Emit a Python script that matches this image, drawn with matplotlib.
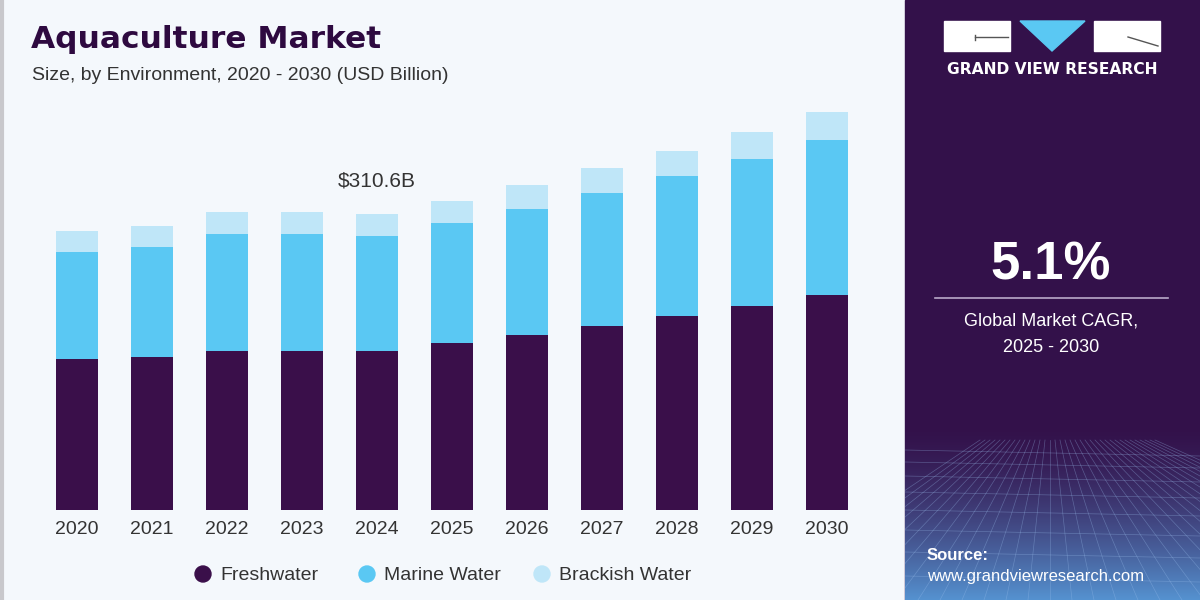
import numpy as np
import matplotlib as mpl
mpl.use("agg")
import matplotlib.pyplot as plt
from matplotlib.patches import Rectangle, Polygon, Circle

plt.rcParams['font.family'] = ['Liberation Sans', 'DejaVu Sans']

# data (USD billion)
years = ["2020", "2021", "2022", "2023", "2024", "2025", "2026", "2027", "2028", "2029", "2030"]
freshwater = [158.4, 160.8, 166.8, 166.9, 167.0, 174.7, 183.6, 193.3, 203.2, 214.3, 225.5]
marine = [112.6, 115.1, 122.4, 122.3, 120.4, 126.1, 132.2, 139.2, 147.5, 153.6, 162.3]
brackish = [21.7, 22.3, 23.4, 23.3, 23.2, 23.6, 25.2, 25.9, 26.2, 28.3, 30.0]
series_names = ["Freshwater", "Marine Water", "Brackish Water"]
note_year = "2024"
note_text = "$310.6B"
cagr = "5.1%"

c_fresh = "#3a0f4a"
c_marine = "#5ac8f3"
c_brack = "#bfe6f8"
c_panel = "#33114a"
bg = "#f4f8fc"

fig = plt.figure(figsize=(12, 6), dpi=100)
fig.patch.set_facecolor(bg)

# background / decoration layer in pixel coords
deco = fig.add_axes([0, 0, 1, 1])
deco.set_xlim(0, 1200)
deco.set_ylim(600, 0)
deco.axis("off")
panel = Rectangle((905, 0), 295, 600, color=c_panel, zorder=0)
deco.add_patch(panel)
deco.plot([1.5, 1.5], [0, 600], color="#c8c8cc", lw=3)

# bottom gradient of the panel with a faint grid
grad = np.linspace(0, 1, 200)[:, None]
top_c = np.array(mpl.colors.to_rgb(c_panel))
bot_c = np.array(mpl.colors.to_rgb("#5592d0"))
img = top_c[None, None, :] * (1 - grad[..., None] ** 1.5) + bot_c[None, None, :] * grad[..., None] ** 1.5
img = np.repeat(img, 2, axis=1)
deco.imshow(img, extent=(905, 1200, 600, 425), aspect="auto", zorder=1)
for k in range(-14, 22):
    ln, = deco.plot([1050 + k * 5, 1050 + k * 22], [440, 600], color="#9cc0ee", lw=0.5, alpha=0.35, zorder=2)
    ln.set_clip_path(panel)
for yy in [450, 462, 476, 492, 510, 530, 552, 576]:
    ln, = deco.plot([905, 1200], [yy, yy + 6], color="#9cc0ee", lw=0.5, alpha=0.35, zorder=2)
    ln.set_clip_path(panel)
deco.set_xlim(0, 1200)
deco.set_ylim(600, 0)

# logo
deco.add_patch(Rectangle((944, 21), 66, 30, color="white", zorder=3))
deco.plot([975, 1008], [37, 37], color="#555555", lw=1, zorder=4)
deco.plot([975, 975], [35, 40], color="#555555", lw=1, zorder=4)
deco.add_patch(Polygon([(1020, 21), (1085, 21), (1052, 51)], color="#5ac8f3", zorder=3))
deco.add_patch(Rectangle((1094, 21), 66, 30, color="white", zorder=3))
deco.plot([1128, 1158], [37, 46], color="#555555", lw=1, zorder=4)
deco.text(1052, 69, "GRAND VIEW RESEARCH", color="white", fontsize=11.2, fontweight="bold",
          ha="center", va="center", family=["DejaVu Sans"], zorder=4)

# CAGR block
deco.text(1051, 266, cagr, color="white", fontsize=38, fontweight="bold", ha="center", va="center", zorder=4)
deco.plot([935, 1168], [298, 298], color="#b9a9c9", lw=1.2, zorder=4)
deco.text(1051, 321, "Global Market CAGR,", color="white", fontsize=13, ha="center", va="center", zorder=4)
deco.text(1051, 347, "2025 - 2030", color="white", fontsize=13, ha="center", va="center", zorder=4)
deco.text(927, 555, "Source:", color="white", fontsize=12, fontweight="bold", ha="left", va="center", zorder=4)
deco.text(927, 577, "www.grandviewresearch.com", color="white", fontsize=12, ha="left", va="center", zorder=4)

# titles
deco.text(31, 40, "Aquaculture Market", color="#2e0a40", fontsize=22.5, fontweight="heavy",
          ha="left", va="center", family=["DejaVu Sans"])
deco.text(32, 76, "Size, by Environment, 2020 - 2030 (USD Billion)", color="#333333", fontsize=14,
          ha="left", va="center")

# chart
ax = fig.add_axes([39.5 / 1200, 90 / 600, 825 / 1200, 410 / 600])
ax.set_facecolor("none")
x = np.arange(len(years))
w = 0.57
fresh = np.array(freshwater)
mar = np.array(marine)
bra = np.array(brackish)
ax.bar(x, fresh, w, color=c_fresh, label=series_names[0])
ax.bar(x, mar, w, bottom=fresh, color=c_marine, label=series_names[1])
ax.bar(x, bra, w, bottom=fresh + mar, color=c_brack, label=series_names[2])
ax.set_xlim(-0.5, len(years) - 0.5)
ax.set_ylim(0, 430)
ax.set_xticks(x)
ax.set_xticklabels(years, fontsize=14, color="#333333")
ax.tick_params(axis="x", length=0, pad=8)
ax.set_yticks([])
for s in ax.spines.values():
    s.set_visible(False)

i = years.index(note_year)
tot = fresh[i] + mar[i] + bra[i]
ax.annotate(note_text, (x[i], tot), xytext=(0, 24), textcoords="offset points", ha="center",
            va="center", fontsize=15, color="#333333")

# legend
lx = [203, 367, 542]
for j, (name, col) in enumerate(zip(series_names, [c_fresh, c_marine, c_brack])):
    deco.add_patch(Circle((lx[j], 574), 8, color=col))
    deco.text(lx[j] + 17, 575, name, fontsize=14, color="#333333", ha="left", va="center")

fig.savefig("out.png", dpi=100, facecolor=fig.get_facecolor())
